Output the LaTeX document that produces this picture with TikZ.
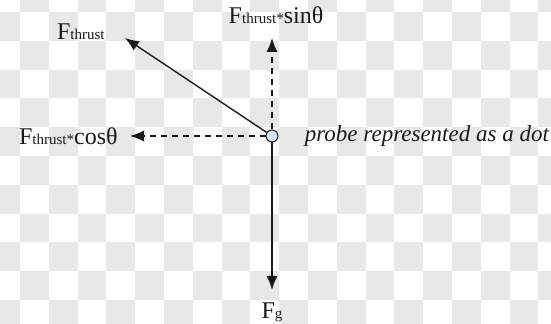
\documentclass[tikz,border=0pt]{standalone}
\usepackage{fontspec}
\setmainfont{Liberation Serif}
\usetikzlibrary{arrows.meta,positioning}
\definecolor{probeblue}{HTML}{D3E3F4}
\definecolor{checkgray}{HTML}{E8E8E8}
\definecolor{forceblack}{HTML}{1A1A1A}
\newcommand{\subsz}{\fontsize{7.5}{9}\selectfont}
\newcommand{\Fsub}[1]{F{\subsz #1}}

\begin{document}
\begin{tikzpicture}[x=0.5pt,y=-0.5pt, >={Latex[length=7pt,width=5.5pt]},
    font=\fontsize{12}{14}\selectfont,
    force/.style={draw=forceblack,line width=0.7pt,->},
    part/.style={force,dash pattern=on 3pt off 2.5pt},
    lbl/.style={inner sep=0pt,text=forceblack},
    probe/.style={circle,draw=forceblack,line width=0.5pt,fill=probeblue,inner sep=0pt,minimum size=6pt}]
  \useasboundingbox (0,0) rectangle (551,324);
  % transparency checkerboard behind the figure
  \begin{scope}
    \clip (0,0) rectangle (551,324);
    \foreach \i in {-1,...,18}
      \foreach \j in {-1,...,10} {
        \pgfmathtruncatemacro\cellodd{mod(\i+\j+20,2)}
        \ifnum\cellodd=1
          \fill[checkgray] (20+28.8*\i,12+28.8*\j) rectangle ++(28.8,28.8);
        \fi
      }
  \end{scope}
  % probe and force tips
  \node[probe] (probe) at (272,136) {};
  \coordinate (thrusttip) at (125,38);
  \coordinate (sintip) at (272,38);
  \coordinate (costip) at (130,136);
  \coordinate (gtip) at (272,290);
  \draw[force] (probe) -- (thrusttip);
  \draw[part] (probe) -- (sintip);
  \draw[part] (probe) -- (costip);
  \draw[force] (probe) -- (gtip);
  % labels
  \node[lbl,above left=-1pt and 10pt of thrusttip] (thrustlbl) {\Fsub{thrust}};
  \node[lbl,above=7pt of sintip,xshift=2pt] (sinlbl) {\Fsub{thrust*}sinθ};
  \node[lbl,left=6pt of costip] (coslbl) {\Fsub{thrust*}cosθ};
  \node[lbl,below=6pt of gtip] (glbl) {\Fsub{g}};
  \node[lbl,right=13pt of probe,font=\fontsize{11.5}{13}\selectfont\itshape] (probelbl) {probe represented as a dot};
\end{tikzpicture}
\end{document}
